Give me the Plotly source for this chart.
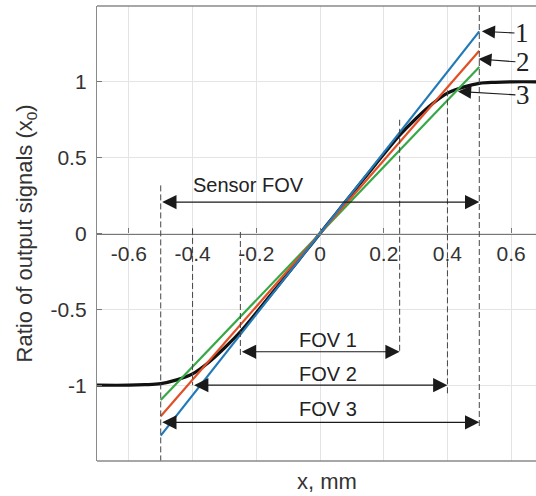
import plotly.graph_objects as go

# ---- data ----
curve_x = [-0.70, -0.60, -0.55, -0.50, -0.45, -0.40, -0.35, -0.30, -0.25, -0.20, -0.15, -0.10, -0.05,
           0.00, 0.05, 0.10, 0.15, 0.20, 0.25, 0.30, 0.35, 0.40, 0.45, 0.50, 0.55, 0.60, 0.70]
curve_y = [-1.000, -1.000, -0.997, -0.990, -0.965, -0.925, -0.850, -0.755, -0.648, -0.522, -0.392, -0.262, -0.131,
           0.000, 0.131, 0.262, 0.392, 0.522, 0.648, 0.755, 0.850, 0.925, 0.965, 0.990, 0.997, 1.000, 1.000]

line_x = [-0.5, 0.5]
line1_y = [-1.333, 1.333]
line2_y = [-1.205, 1.205]
line3_y = [-1.098, 1.098]

x_ticks = [-0.6, -0.4, -0.2, 0, 0.2, 0.4, 0.6]
x_ticktext = ["-0.6", "-0.4", "-0.2", "0", "0.2", "0.4", "0.6"]
y_ticks = [-1, -0.5, 0, 0.5, 1]
y_ticktext = ["-1", "-0.5", "0", "0.5", "1"]

# dashed markers: x, y_top, y_bottom
dash_x = [-0.5, -0.4, -0.25, 0.25, 0.4, 0.5]
dash_top = [0.317, 0.03, 0.01, 0.75, 0.944, 1.5]
dash_bot = [-1.5, -1.0, -0.805, -0.79, -1.056, -1.28]

# FOV double arrows: label, x0, x1, arrow y, label y
fov_labels = ["Sensor FOV", "FOV 1", "FOV 2", "FOV 3"]
fov_x0 = [-0.5, -0.25, -0.4, -0.5]
fov_x1 = [0.5, 0.25, 0.4, 0.5]
fov_y = [0.207, -0.78, -1.0, -1.245]
fov_label_x = [-0.226, 0.025, 0.025, 0.025]
fov_label_y = [0.317, -0.70, -0.924, -1.155]

# numbered callouts: text, head x, head y, text x, text y
num_text = ["1", "2", "3"]
num_hx = [0.508, 0.497, 0.433]
num_hy = [1.333, 1.150, 0.937]
num_tx = [0.634, 0.637, 0.637]
num_ty = [1.32, 1.129, 0.911]

FONT = "Liberation Sans, Arial, sans-serif"
TXT = "#333333"
ARROW = "#1a1a1a"

fig = go.Figure()

fig.add_trace(go.Scatter(x=curve_x, y=curve_y, mode="lines", line=dict(color="#111111", width=3.2, shape="spline"),
                         showlegend=False))
fig.add_trace(go.Scatter(x=line_x, y=line3_y, mode="lines", line=dict(color="#36a845", width=2.2), showlegend=False))
fig.add_trace(go.Scatter(x=line_x, y=line2_y, mode="lines", line=dict(color="#e04f26", width=2.2), showlegend=False))
fig.add_trace(go.Scatter(x=line_x, y=line1_y, mode="lines", line=dict(color="#2279b8", width=2.2), showlegend=False))

shapes = []
for xv, yt, yb in zip(dash_x, dash_top, dash_bot):
    shapes.append(dict(type="line", xref="x", yref="y", x0=xv, x1=xv, y0=yt, y1=yb,
                       line=dict(color="#444444", width=1, dash="6px,3px"), layer="above"))
# box border (top, bottom)
for yy in [0, 1]:
    shapes.append(dict(type="line", xref="paper", yref="paper", x0=0, x1=1, y0=yy, y1=yy,
                       line=dict(color="#8a8a8a", width=1.3)))

annotations = []
for lab, x0, x1, yy, lx, ly in zip(fov_labels, fov_x0, fov_x1, fov_y, fov_label_x, fov_label_y):
    annotations.append(dict(x=x1, y=yy, ax=x0, ay=yy, xref="x", yref="y", axref="x", ayref="y",
                            text="", showarrow=True, arrowside="end+start",
                            arrowhead=2, startarrowhead=2, arrowsize=2.6, startarrowsize=2.6,
                            arrowwidth=1.1, arrowcolor=ARROW, standoff=0, startstandoff=0))
    annotations.append(dict(x=lx, y=ly, xref="x", yref="y", text=lab, showarrow=False,
                            font=dict(family=FONT, size=20, color="#222222")))

for t, hx, hy, tx, ty in zip(num_text, num_hx, num_hy, num_tx, num_ty):
    annotations.append(dict(x=hx, y=hy, ax=tx, ay=ty, xref="x", yref="y", axref="x", ayref="y",
                            text=t, showarrow=True, arrowhead=2, arrowsize=2.4, arrowwidth=1.1,
                            arrowcolor=ARROW, standoff=0, borderpad=0,
                            font=dict(family="Liberation Serif, Times New Roman, serif", size=27, color="#222222")))

annotations.append(dict(x=0.524, y=-0.046, xref="paper", yref="paper", text="x, mm", showarrow=False,
                        yanchor="middle", font=dict(family=FONT, size=22, color=TXT)))
annotations.append(dict(x=-0.162, y=0.5, xref="paper", yref="paper", text="Ratio of output signals (x<sub>0</sub>)",
                        showarrow=False, textangle=-90, xanchor="center", yanchor="middle",
                        font=dict(family=FONT, size=22, color=TXT)))

fig.update_layout(
    width=536, height=496,
    margin=dict(l=97, r=0, t=6, b=35, autoexpand=False),
    paper_bgcolor="white", plot_bgcolor="white",
    shapes=shapes, annotations=annotations,
    xaxis=dict(range=[-0.7, 0.678], anchor="free", position=0.5, side="bottom", automargin=False,
               tickvals=x_ticks, ticktext=x_ticktext, ticks="inside", ticklen=5, tickcolor="#777777",
               showline=True, linecolor="#777777", linewidth=1.3,
               showgrid=True, gridcolor="#e4e4e4", gridwidth=1, zeroline=False,
               tickfont=dict(family=FONT, size=21, color=TXT), ticklabelstandoff=1),
    yaxis=dict(range=[-1.5, 1.5], tickvals=y_ticks, ticktext=y_ticktext, ticks="inside", ticklen=5,
               automargin=False,
               tickcolor="#777777", showline=True, linecolor="#8a8a8a", linewidth=1.3,
               showgrid=True, gridcolor="#e4e4e4", gridwidth=1, zeroline=False,
               tickfont=dict(family=FONT, size=21, color=TXT), ticklabelstandoff=5),
)

fig.write_html("out.html", config={"displayModeBar": False},
               post_script="document.body.style.margin='0';document.body.style.overflow='hidden';")
